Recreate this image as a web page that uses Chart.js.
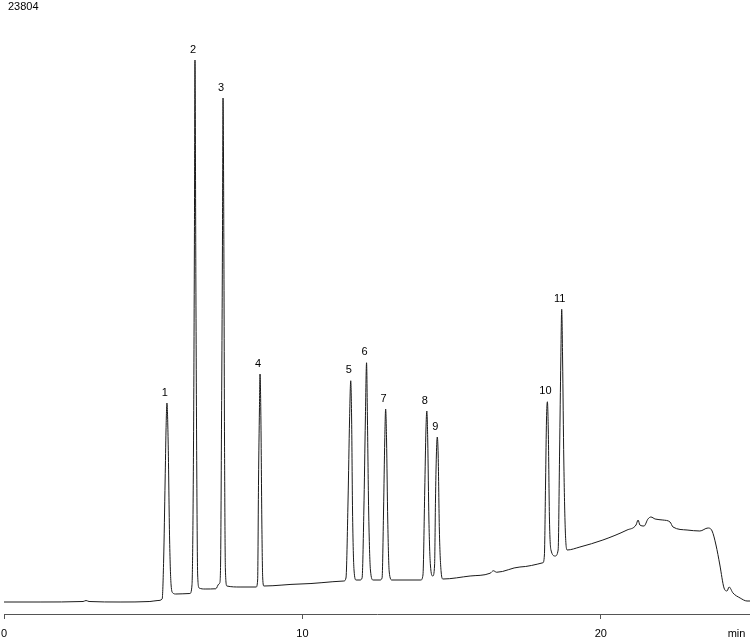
<!DOCTYPE html>
<html>
<head>
<meta charset="utf-8">
<script src="https://cdn.jsdelivr.net/npm/chart.js@4"></script>
<style>
  html, body { margin: 0; padding: 0; background: #fff; }
  #wrap { width: 750px; height: 640px; position: relative; }
</style>
</head>
<body>
<div id="wrap"><canvas id="chrom"></canvas></div>
<script>
// retention time (min) and detector signal
const times = [
  0.00, 1.21, 2.65, 2.75, 2.85, 3.89, 4.89, 5.16, 5.30,
  5.35, 5.40, 5.43, 5.46, 5.50, 5.55, 5.60, 5.66, 5.76,
  6.23, 6.30, 6.35, 6.38, 6.40, 6.43, 6.46, 6.49, 6.54, 6.74,
  7.10, 7.20, 7.23, 7.26, 7.29, 7.32, 7.34, 7.37, 7.39, 7.42, 7.47, 7.91,
  8.45, 8.50, 8.53, 8.56, 8.58, 8.61, 8.64, 8.67, 8.71, 9.92,
  11.39, 11.46, 11.53, 11.58, 11.62, 11.65, 11.68, 11.73, 11.80, 11.93,
  12.00, 12.06, 12.11, 12.15, 12.18, 12.22, 12.28, 12.37, 12.60,
  12.67, 12.72, 12.76, 12.79, 12.82, 12.86, 12.91, 13.00, 13.97,
  14.04, 14.10, 14.14, 14.17, 14.20, 14.24, 14.29, 14.37,
  14.43, 14.46, 14.49, 14.52, 14.55, 14.59, 14.65, 14.71,
  15.62, 16.29, 16.40, 16.51, 17.29, 18.06,
  18.11, 18.15, 18.18, 18.21, 18.24, 18.28, 18.33, 18.47,
  18.57, 18.62, 18.66, 18.69, 18.72, 18.76, 18.81, 18.87, 19.30,
  20.07, 20.88, 21.18, 21.25, 21.31, 21.45, 21.58, 21.68, 21.82,
  22.08, 22.32, 22.42, 22.89, 23.32, 23.59, 23.73, 23.86, 23.99,
  24.13, 24.23, 24.30, 24.43, 24.67, 24.90, 25.00
];
const signal = [
  0, 0, 20, 60, 20, 0, 20, 60, 120,
  1680, 4880, 6880, 7960, 6480, 2480, 680, 360, 320,
  340, 680, 6080, 14080, 21680, 12880, 5280, 1080, 560, 520,
  530, 720, 760, 1680, 7280, 14080, 20160, 13680, 6480, 1280, 640, 600,
  600, 880, 4880, 7680, 9120, 7280, 3280, 960, 640, 720,
  840, 960, 4080, 7280, 8850, 7280, 3680, 1280, 880, 880,
  960, 3680, 7280, 9570, 7280, 3680, 1280, 880, 880,
  960, 3680, 6480, 7720, 6480, 3280, 1200, 880, 880,
  1080, 4480, 6880, 7640, 6480, 3280, 1480, 1040,
  1480, 4080, 5880, 6600, 5880, 2880, 1200, 920,
  1040, 1150, 1250, 1190, 1400, 1570,
  1880, 4880, 7280, 8010, 6880, 3280, 2080, 1840,
  2080, 6080, 9680, 11710, 9680, 5680, 2880, 2080, 2200,
  2480, 2880, 3080, 3280, 3080, 3040, 3320, 3400, 3320,
  3280, 3200, 3000, 2880, 2840, 2960, 2840, 2280, 1480,
  560, 440, 600, 360, 160, 40, 40
];

// numbered peaks: apex time and height
const peakNames = ['1', '2', '3', '4', '5', '6', '7', '8', '9', '10', '11'];
const peakTimes = [5.46, 6.40, 7.34, 8.58, 11.62, 12.15, 12.79, 14.17, 14.52, 18.21, 18.69];
const peakHeights = [7960, 21680, 20160, 9120, 8850, 9570, 7720, 7640, 6600, 8010, 11710];

const xTicks = [0, 10, 20];
const unitLabel = 'min';
const fullScaleLabel = '23804';

const FONT = '"Liberation Sans", Arial, sans-serif';

// peak numbers, the unit label and the full-scale value
const labelsPlugin = {
    id: 'chromLabels',
    afterDraw(chart) {
        const ctx = chart.ctx;
        const xs = chart.scales.x;
        const ys = chart.scales.y;
        ctx.save();
        ctx.fillStyle = '#000';
        ctx.font = '11px ' + FONT;
        ctx.textAlign = 'center';
        ctx.textBaseline = 'bottom';
        peakNames.forEach((name, i) => {
            const px = xs.getPixelForValue(peakTimes[i]);
            const py = ys.getPixelForValue(peakHeights[i]);
            ctx.fillText(name, px - 2, py - 5);
        });

        ctx.textBaseline = 'middle';
        ctx.fillText(unitLabel, xs.getPixelForValue(24.55), 634);

        ctx.textAlign = 'left';
        ctx.textBaseline = 'top';
        ctx.fillText(fullScaleLabel, 8, 1);
        ctx.restore();
    }
};

new Chart(document.getElementById('chrom'), {
    type: 'line',
    data: {
        datasets: [{
            data: times.map((t, i) => ({ x: t, y: signal[i] })),
            borderColor: '#1a1a1a',
            borderWidth: 1,
            pointRadius: 0,
            fill: false,
            cubicInterpolationMode: 'monotone'
        }]
    },
    options: {
        responsive: true,
        maintainAspectRatio: false,
        animation: false,
        layout: { padding: { left: 4, right: 0, top: 0, bottom: 0 } },
        plugins: {
            legend: { display: false },
            tooltip: { enabled: false }
        },
        scales: {
            x: {
                type: 'linear',
                min: 0,
                max: 25,
                afterBuildTicks(scale) {
                    scale.ticks = xTicks.map(v => ({ value: v }));
                },
                afterFit(scale) {
                    // keep the plot edge-to-edge, labels may overhang
                    scale.height = 26;
                    scale.paddingLeft = 0;
                    scale.paddingRight = 0;
                },
                ticks: {
                    color: '#000',
                    font: { size: 11, family: FONT },
                    padding: 8,
                    maxRotation: 0,
                    autoSkip: false,
                    includeBounds: false
                },
                grid: {
                    drawOnChartArea: false,
                    drawTicks: true,
                    tickLength: 5,
                    color: '#555'
                },
                border: { color: '#555', width: 1 }
            },
            y: {
                display: false,
                min: -480,
                max: 24080
            }
        }
    },
    plugins: [labelsPlugin]
});
</script>
</body>
</html>
